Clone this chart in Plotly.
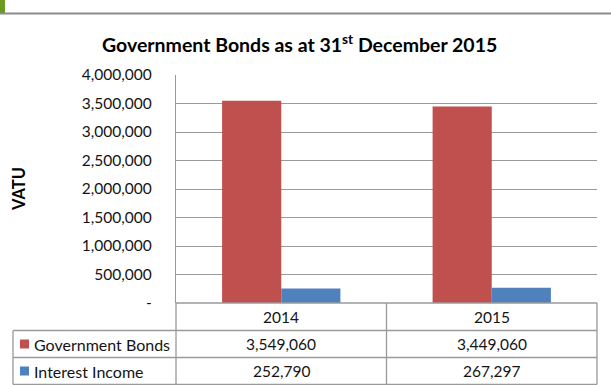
import plotly.graph_objects as go

# Data
years = ["2014", "2015"]
series_names = ["Government Bonds", "Interest Income"]
government_bonds = [3549060, 3449060]
interest_income = [252790, 267297]
y_ticks = [0, 500000, 1000000, 1500000, 2000000, 2500000, 3000000, 3500000, 4000000]
y_tick_labels = ["-", "500,000", "1,000,000", "1,500,000", "2,000,000",
                 "2,500,000", "3,000,000", "3,500,000", "4,000,000"]

RED = "#C0504D"
BLUE = "#4F81BD"
GRID = "#9a9a9a"
FONT = "Lato"
TEXT = "#141414"

W, H = 611, 385
PL, PR, PT, PB = 176, 597, 75, 303  # plot area in pixels


def px_x(x):
    return (x - PL) / (PR - PL)


def px_y(y):
    return (PB - y) / (PB - PT)


# category positions on a linear axis (one slot per year)
pos = list(range(len(years)))

fig = go.Figure()
fig.add_trace(go.Bar(x=pos, y=government_bonds, name=series_names[0],
                     marker=dict(color=RED, line=dict(width=0))))
fig.add_trace(go.Bar(x=pos, y=interest_income, name=series_names[1],
                     marker=dict(color=BLUE, line=dict(width=0))))

shapes = []
annotations = []

# Top accent bar and rule
shapes.append(dict(type="rect", xref="paper", yref="paper",
                   x0=px_x(0), x1=px_x(5), y0=px_y(13), y1=px_y(0),
                   fillcolor="#6a9a1f", line=dict(width=0), layer="above"))
shapes.append(dict(type="line", xref="paper", yref="paper",
                   x0=px_x(0), x1=px_x(611), y0=px_y(13.5), y1=px_y(13.5),
                   line=dict(color="#8c8c8c", width=2)))

# Data table grid
tbl = "#9a9a9a"
row_y = [303, 330.5, 357.5, 384.5]
left_x = 13
for i, yy in enumerate(row_y):
    x0 = PL if i == 0 else left_x
    shapes.append(dict(type="line", xref="paper", yref="paper",
                       x0=px_x(x0), x1=px_x(PR), y0=px_y(yy), y1=px_y(yy),
                       line=dict(color=tbl, width=1.3)))
for xx in [PL, 386.5, PR]:
    shapes.append(dict(type="line", xref="paper", yref="paper",
                       x0=px_x(xx), x1=px_x(xx), y0=px_y(303), y1=px_y(384.5),
                       line=dict(color=tbl, width=1.3)))
shapes.append(dict(type="line", xref="paper", yref="paper",
                   x0=px_x(left_x), x1=px_x(left_x), y0=px_y(330.5), y1=px_y(384.5),
                   line=dict(color=tbl, width=1.3)))

NUM_SIZE = 15.5
NAME_SIZE = 16

# Header row: years
for p, yr in zip(pos, years):
    annotations.append(dict(x=p, xref="x", y=px_y(317), yref="paper",
                            text=yr, showarrow=False,
                            font=dict(family=FONT, size=NUM_SIZE, color=TEXT),
                            xanchor="center", yanchor="middle"))

# Series rows: legend key, name and values
for row, (name, vals, col) in enumerate(zip(series_names,
                                            [government_bonds, interest_income],
                                            [RED, BLUE])):
    cy = (row_y[row + 1] + row_y[row + 2]) / 2
    shapes.append(dict(type="rect", xref="paper", yref="paper",
                       x0=px_x(20), x1=px_x(29), y0=px_y(cy + 4.5), y1=px_y(cy - 4.5),
                       fillcolor=col, line=dict(width=0)))
    annotations.append(dict(x=px_x(32), xref="paper", y=px_y(cy), yref="paper",
                            text=name, showarrow=False,
                            font=dict(family=FONT, size=NAME_SIZE, color=TEXT),
                            xanchor="left", yanchor="middle"))
    for p, v in zip(pos, vals):
        annotations.append(dict(x=p, xref="x", y=px_y(cy), yref="paper",
                                text=f"{v:,}", showarrow=False,
                                font=dict(family=FONT, size=NUM_SIZE, color=TEXT),
                                xanchor="center", yanchor="middle"))

# Title and axis title
annotations.append(dict(x=px_x(299), xref="paper", y=px_y(43), yref="paper",
                        text="Government Bonds as at 31<sup>st</sup> December 2015",
                        showarrow=False,
                        font=dict(family=FONT, size=19.5, color="#000000", weight="bold"),
                        xanchor="center", yanchor="middle"))
annotations.append(dict(x=px_x(19), xref="paper", y=px_y(189), yref="paper",
                        text="VATU", showarrow=False, textangle=-90,
                        font=dict(family=FONT, size=16.5, color="#000000", weight="bold"),
                        xanchor="center", yanchor="middle"))

fig.update_layout(
    width=W, height=H,
    margin=dict(l=PL, r=W - PR, t=PT, b=H - PB, pad=0),
    paper_bgcolor="white", plot_bgcolor="white",
    showlegend=False,
    barmode="group", bargap=0.438, bargroupgap=0,
    shapes=shapes, annotations=annotations,
    font=dict(family=FONT, color=TEXT),
)
fig.update_xaxes(range=[-0.5, len(years) - 0.5], showticklabels=False,
                 showgrid=False, showline=False, ticks="", zeroline=False)
fig.update_yaxes(range=[0, 4000000], tickvals=y_ticks, ticktext=y_tick_labels,
                 showgrid=True, gridcolor=GRID, gridwidth=1.3,
                 zeroline=False, showline=True, linecolor=GRID, linewidth=1.3,
                 ticks="", ticklabelstandoff=20,
                 tickfont=dict(family=FONT, size=NUM_SIZE, color=TEXT))

fig.write_html("out.html")
